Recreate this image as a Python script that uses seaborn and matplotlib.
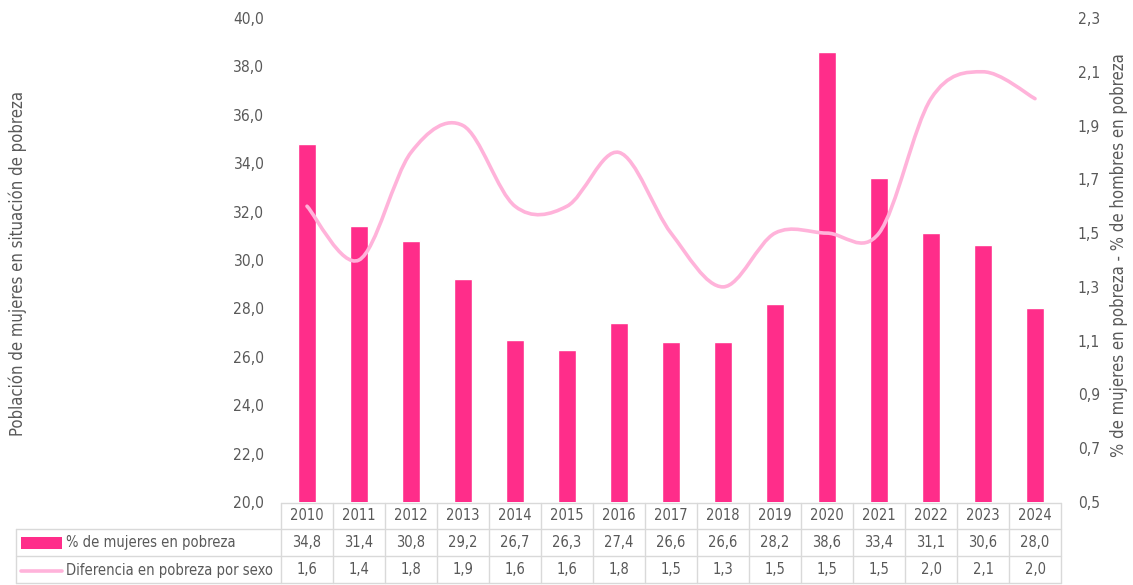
import matplotlib
matplotlib.use("Agg")
import matplotlib.pyplot as plt
import matplotlib.transforms as mtransforms
from matplotlib.path import Path
from matplotlib.patches import PathPatch, Rectangle
from matplotlib.lines import Line2D
import seaborn as sns
import pandas as pd

# ---- data ----
years = ["2010", "2011", "2012", "2013", "2014", "2015", "2016", "2017",
         "2018", "2019", "2020", "2021", "2022", "2023", "2024"]
mujeres_pobreza = [34.8, 31.4, 30.8, 29.2, 26.7, 26.3, 27.4, 26.6,
                   26.6, 28.2, 38.6, 33.4, 31.1, 30.6, 28.0]
diferencia_sexo = [1.6, 1.4, 1.8, 1.9, 1.6, 1.6, 1.8, 1.5,
                   1.3, 1.5, 1.5, 1.5, 2.0, 2.1, 2.0]

bar_label = "% de mujeres en pobreza"
line_label = "Diferencia en pobreza por sexo"
left_title = "Población de mujeres en situación de pobreza"
right_title = "% de mujeres en pobreza - % de hombres en pobreza"

BAR_COLOR = "#FF2D8A"
LINE_COLOR = "#FFB3DA"
TEXT_COLOR = "#595959"
GRID_COLOR = "#D9D9D9"

df = pd.DataFrame({"year": years, "mujeres": mujeres_pobreza, "dif": diferencia_sexo})

sns.set_style("white")
plt.rcParams["font.family"] = ["DejaVu Sans"]
plt.rcParams["font.stretch"] = "condensed"
plt.rcParams["font.size"] = 11

W, H = 1133, 585
fig = plt.figure(figsize=(W / 100, H / 100), dpi=100)

def fx(px):
    return px / W

def fy(py):
    return 1 - py / H

FS = 10.5      # table text
TICK_FS = 11.2
TITLE_FS = 12

ax = fig.add_axes([fx(281), fy(502), fx(1061) - fx(281), fy(18) - fy(502)])

sns.barplot(data=df, x="year", y="mujeres", color=BAR_COLOR, width=0.35,
            saturation=1, ax=ax)
ax.set_ylim(20, 40)
ax.set_xlim(-0.5, len(years) - 0.5)
ax.set_yticks([20 + 2 * i for i in range(11)])
ax.set_yticklabels([f"{v:.1f}".replace(".", ",") for v in ax.get_yticks()])
ax.set_xticks([])
ax.set_xlabel("")
ax.set_ylabel("")
ax.tick_params(axis="y", length=0, pad=12, labelcolor=TEXT_COLOR, labelsize=TICK_FS)
for s in ax.spines.values():
    s.set_visible(False)

# secondary axis with smoothed line (Catmull-Rom drawn as Bezier segments)
ax2 = ax.twinx()
ax2.set_ylim(0.5, 2.3)
ax2.set_yticks([0.5 + 0.2 * i for i in range(10)])
ax2.set_yticklabels([f"{v:.1f}".replace(".", ",") for v in ax2.get_yticks()])
ax2.tick_params(axis="y", length=0, pad=12, labelcolor=TEXT_COLOR, labelsize=TICK_FS)
for s in ax2.spines.values():
    s.set_visible(False)

xs = list(range(len(years)))
ys = diferencia_sexo
verts = [(xs[0], ys[0])]
codes = [Path.MOVETO]
n = len(xs)
for i in range(n - 1):
    x0, y0 = (xs[i - 1], ys[i - 1]) if i > 0 else (xs[i], ys[i])
    x1, y1 = xs[i], ys[i]
    x2, y2 = xs[i + 1], ys[i + 1]
    x3, y3 = (xs[i + 2], ys[i + 2]) if i + 2 < n else (xs[i + 1], ys[i + 1])
    c1 = (x1 + (x2 - x0) / 6, y1 + (y2 - y0) / 6)
    c2 = (x2 - (x3 - x1) / 6, y2 - (y3 - y1) / 6)
    verts += [c1, c2, (x2, y2)]
    codes += [Path.CURVE4] * 3
ax2.add_patch(PathPatch(Path(verts, codes), facecolor="none",
                        edgecolor=LINE_COLOR, lw=2.6, capstyle="round"))

# axis titles
fig.text(fx(18), fy(264), left_title, rotation=90, ha="center", va="center",
         color=TEXT_COLOR, fontsize=TITLE_FS)
fig.text(fx(1119), fy(255), right_title, rotation=90, ha="center", va="center",
         color=TEXT_COLOR, fontsize=TITLE_FS)

# ---- data table ----
bt = mtransforms.blended_transform_factory(ax.transData, fig.transFigure)
rows_y = [503, 529, 556, 583]
for py in rows_y:
    x_start = 281 if py == 503 else 16
    fig.add_artist(Line2D([fx(x_start), fx(1061)], [fy(py), fy(py)],
                          color=GRID_COLOR, lw=1))
fig.add_artist(Line2D([fx(16), fx(16)], [fy(529), fy(583)], color=GRID_COLOR, lw=1))
for i in range(len(years) + 1):
    fig.add_artist(Line2D([i - 0.5, i - 0.5], [fy(503), fy(583)],
                          color=GRID_COLOR, lw=1, transform=bt))

for i, yr in enumerate(years):
    fig.text(i, fy(516), yr, transform=bt, ha="center", va="center",
             color=TEXT_COLOR, fontsize=FS)
    fig.text(i, fy(542.5), f"{mujeres_pobreza[i]:.1f}".replace(".", ","),
             transform=bt, ha="center", va="center", color=TEXT_COLOR, fontsize=FS)
    fig.text(i, fy(570), f"{diferencia_sexo[i]:.1f}".replace(".", ","),
             transform=bt, ha="center", va="center", color=TEXT_COLOR, fontsize=FS)

# legend keys in the row headers
fig.add_artist(Rectangle((fx(21), fy(549)), fx(62) - fx(21), fy(537) - fy(549),
                         facecolor=BAR_COLOR, edgecolor="none"))
fig.add_artist(Line2D([fx(21), fx(62)], [fy(570.5), fy(570.5)], color=LINE_COLOR, lw=2.6))
fig.text(fx(66), fy(542.5), bar_label, ha="left", va="center",
         color=TEXT_COLOR, fontsize=FS)
fig.text(fx(66), fy(570), line_label, ha="left", va="center",
         color=TEXT_COLOR, fontsize=FS)

fig.savefig("out.png", dpi=100, facecolor="white")
